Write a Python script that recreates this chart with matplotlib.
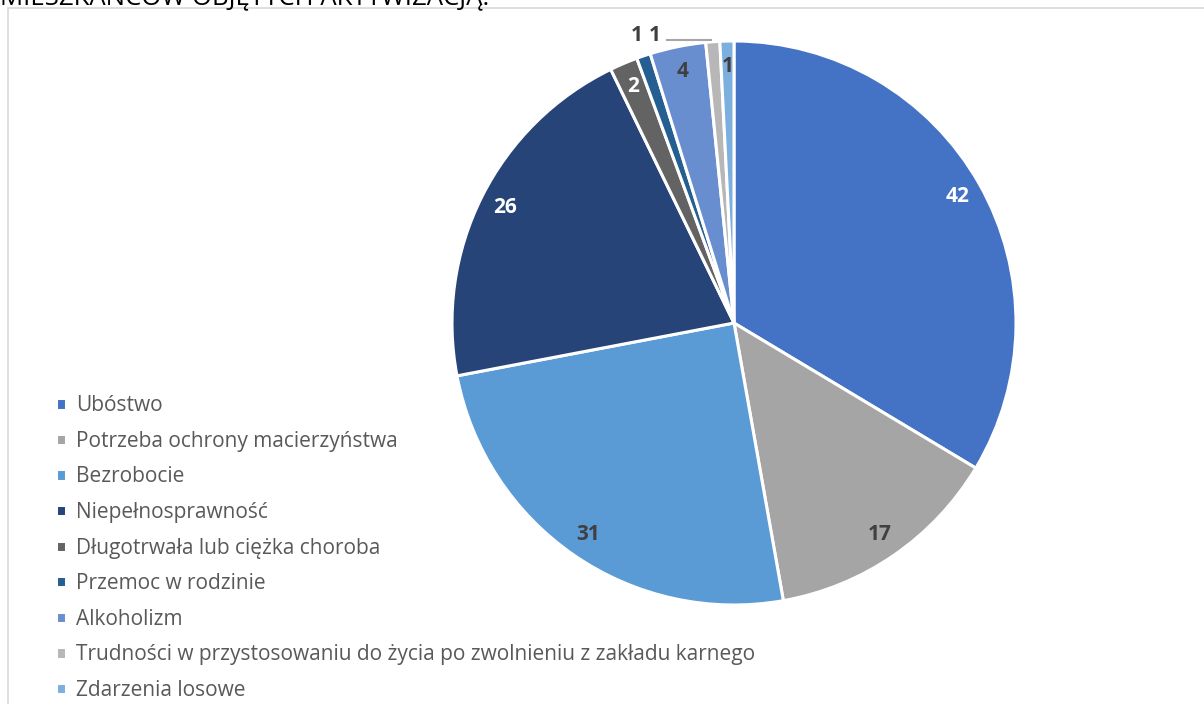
import numpy as np
import matplotlib
matplotlib.use('Agg')
import matplotlib.pyplot as plt
from matplotlib.patches import Rectangle

plt.rcParams['font.family'] = ['Open Sans', 'DejaVu Sans']

# Data
categories = [
    'Ubóstwo',
    'Potrzeba ochrony macierzyństwa',
    'Bezrobocie',
    'Niepełnosprawność',
    'Długotrwała lub ciężka choroba',
    'Przemoc w rodzinie',
    'Alkoholizm',
    'Trudności w przystosowaniu do życia po zwolnieniu z zakładu karnego',
    'Zdarzenia losowe',
]
values = [42, 17, 31, 26, 2, 1, 4, 1, 1]
title = 'MIESZKAŃCÓW OBJĘTYCH AKTYWIZACJĄ:'

colors = ['#4472C4', '#A5A5A5', '#5B9BD5', '#264478', '#636363',
          '#255E91', '#698ED0', '#B7B7B7', '#7CAFDD']
label_colors = ['white', '#404040', '#404040', 'white', 'white',
                '#404040', '#404040', '#404040', '#404040']
outside = [False, False, False, False, False, True, False, True, False]

W, H = 1204, 704
fig = plt.figure(figsize=(W / 100, H / 100), dpi=100)

# chart frame (light gray border, cut by the image edges)
fig.patches.append(Rectangle((8 / W, -0.1), 1.2, 1 - 8 / H + 0.1,
                             transform=fig.transFigure, fill=False,
                             edgecolor='#D9D9D9', linewidth=1.2))

# title cut off at the top of the image
fig.text(0.0, 1 - 5 / H, title, fontsize=18.5, color='black',
         ha='left', va='baseline')

# pie axes: centre (734, 323), radius 282 px
cx, cy, r = 734, 323, 282
ax = fig.add_axes([(cx - r) / W, (H - cy - r) / H, 2 * r / W, 2 * r / H])
wedges, _ = ax.pie(values, colors=colors, startangle=90, counterclock=False,
                   radius=1.0,
                   wedgeprops=dict(edgecolor='white', linewidth=2.2))
ax.set_xlim(-1, 1)
ax.set_ylim(-1, 1)
ax.axis('off')

for i, (w, v) in enumerate(zip(wedges, values)):
    mid = np.deg2rad((w.theta1 + w.theta2) / 2)
    if not outside[i]:
        d = 0.91
        ax.text(d * np.cos(mid), d * np.sin(mid), str(v), ha='center',
                va='center', fontsize=15, fontweight='bold',
                color=label_colors[i])
    else:
        d = 1.075
        x, y = d * np.cos(mid), d * np.sin(mid)
        if i == 7:
            # label pushed left, with a leader line back to the slice
            tip_x = np.cos(mid)
            lx = x - 0.2
            ax.plot([lx + 0.045, tip_x - 0.005], [1.004, 1.004],
                    color='#A6A6A6', linewidth=1.5, clip_on=False)
            x = lx
        y = 1.021
        ax.text(x, y, str(v), ha='center', va='center', fontsize=15,
                fontweight='bold', color=label_colors[i], clip_on=False)

leg = fig.legend(wedges, categories, loc='upper left',
                 bbox_to_anchor=(48 / W, 1 - 387 / H), frameon=False,
                 fontsize=15, handlelength=0.45, handleheight=0.45,
                 handletextpad=0.5, labelspacing=0.70, borderaxespad=0)
for t in leg.get_texts():
    t.set_color('#595959')

fig.savefig('out.png', dpi=100)
